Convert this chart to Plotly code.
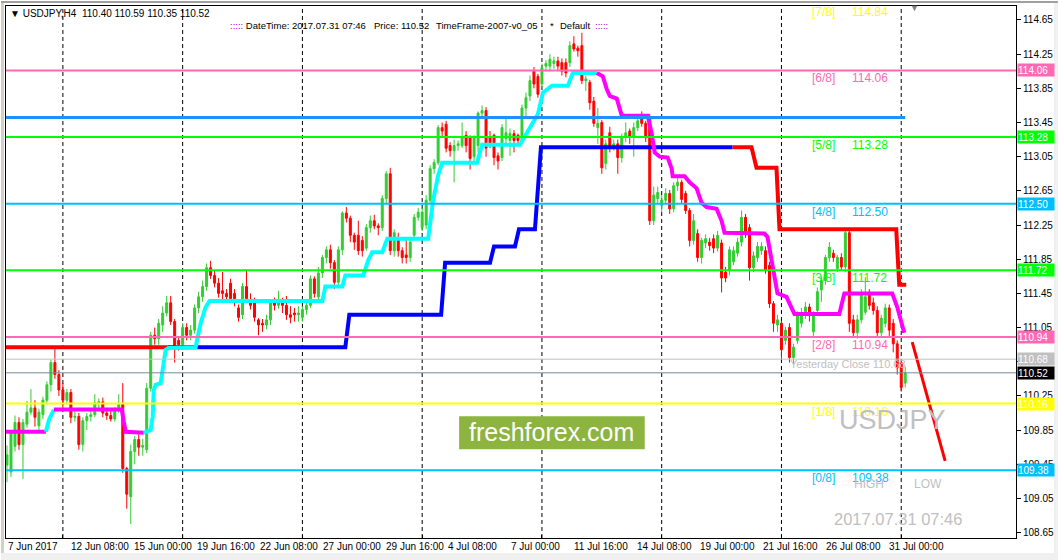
import plotly.graph_objects as go

# ---------------- DATA ----------------
symbol = "USDJPY"
timeframe = "H4"
datetime_text = "2017.07.31 07:46"

opens = [109.44,109.36,109.66,109.94,109.68,109.92,110.06,110.11,109.90,110.03,
         110.20,110.38,110.64,110.50,110.32,110.20,110.29,110.00,110.01,109.68,
         109.96,110.01,110.03,110.17,110.18,110.05,110.02,109.98,110.08,110.15,
         109.40,109.07,109.60,109.74,109.65,109.62,110.34,110.96,110.92,111.08,
         111.22,111.34,111.12,110.90,110.85,111.05,110.96,111.02,111.28,111.41,
         111.53,111.75,111.66,111.57,111.48,111.45,111.57,111.45,111.28,111.20,
         111.53,111.37,111.37,111.14,111.10,111.08,111.14,111.34,111.31,111.37,
         111.31,111.20,111.22,111.20,111.17,111.26,111.31,111.62,111.41,111.69,
         111.87,111.96,111.81,111.58,111.96,112.39,112.33,112.13,112.13,112.07,
         111.98,112.22,112.30,112.24,112.22,112.56,112.85,111.95,112.10,111.95,
         111.90,111.87,112.13,112.34,112.22,112.25,112.54,112.91,112.98,113.39,
         113.43,113.18,113.12,113.18,113.18,113.30,113.27,113.05,113.18,113.56,
         113.59,113.27,113.30,113.06,113.04,113.26,113.24,113.32,113.30,113.24,
         113.62,113.76,114.05,113.99,113.90,114.11,114.11,114.14,114.17,114.15,
         114.15,114.15,114.37,114.32,114.35,113.94,113.92,113.70,113.39,113.45,
         112.97,113.33,113.18,113.20,113.04,113.28,113.35,113.29,113.39,113.53,
         113.44,113.50,112.30,112.56,112.48,112.54,112.62,112.44,112.71,112.75,
         112.62,112.42,112.07,112.15,111.87,112.04,112.05,112.09,111.98,112.04,
         111.70,111.72,111.82,111.92,112.05,112.34,112.22,111.75,111.87,111.95,
         111.95,111.78,111.33,111.08,111.10,110.90,111.05,110.70,110.90,111.10,
         111.22,111.29,111.00,111.25,111.49,111.60,111.87,111.92,111.74,111.87,
         111.76,112.16,111.14,110.99,111.14,111.23,111.43,111.34,111.25,110.99,
         111.10,111.28,111.10,110.86,110.64,110.40]
highs = [109.67,109.85,110.02,110.00,109.98,110.19,110.33,110.20,110.10,110.24,
         110.42,110.67,110.81,110.55,110.40,110.33,110.33,110.10,110.05,110.00,
         110.05,110.08,110.27,110.22,110.23,110.10,110.08,110.12,110.27,110.40,
         109.42,109.68,109.78,109.80,109.75,110.40,111.00,111.05,111.15,111.30,
         111.42,111.42,111.15,110.95,111.10,111.10,111.08,111.32,111.47,111.60,
         111.80,111.83,111.72,111.63,111.70,111.50,111.62,111.50,111.32,111.57,
         111.73,111.45,111.40,111.16,111.15,111.20,111.38,111.40,111.48,111.40,
         111.42,111.30,111.28,111.30,111.30,111.36,111.66,111.65,111.76,111.90,
         112.00,112.02,111.84,112.00,112.41,112.46,112.36,112.16,112.30,112.12,
         112.26,112.36,112.37,112.27,112.60,112.88,112.92,112.20,112.16,111.99,
         112.10,112.09,112.38,112.45,112.45,112.60,112.95,113.02,113.42,113.45,
         113.47,113.22,113.25,113.24,113.45,113.35,113.30,113.30,113.58,113.65,
         113.63,113.35,113.32,113.10,113.43,113.50,113.38,113.36,113.32,113.66,
         113.80,114.00,114.10,114.02,114.14,114.18,114.25,114.22,114.22,114.20,
         114.20,114.40,114.46,114.35,114.50,114.00,113.95,113.75,113.62,113.48,
         113.25,113.40,113.25,113.25,113.32,113.45,113.38,113.45,113.52,113.58,
         113.47,113.55,112.70,112.70,112.60,112.68,112.66,112.75,112.80,112.78,
         112.65,112.45,112.38,112.20,112.10,112.14,112.10,112.14,112.18,112.08,
         111.76,112.00,112.00,112.10,112.42,112.38,112.26,111.94,112.05,112.05,
         112.00,111.82,111.36,111.20,111.13,111.06,111.10,110.86,111.24,111.28,
         111.35,111.33,111.24,111.52,111.65,111.90,112.05,111.96,111.90,111.92,
         112.20,112.22,111.20,111.20,111.50,111.64,111.50,111.40,111.30,111.20,
         111.33,111.32,111.15,110.90,110.66,110.59]
lows = [109.24,109.30,109.60,109.62,109.28,109.88,110.03,109.89,109.85,109.98,
        110.15,110.30,110.45,110.25,110.08,110.15,109.93,109.95,109.62,109.60,
        109.85,109.95,110.00,110.10,110.00,109.97,109.95,109.95,110.05,109.35,
        108.93,108.75,109.45,109.55,109.55,109.58,110.30,110.85,110.85,111.00,
        111.18,111.08,110.64,110.78,110.80,110.90,110.90,110.98,111.22,111.35,
        111.48,111.62,111.52,111.40,111.35,111.36,111.35,111.30,111.12,111.15,
        111.35,111.26,111.12,110.96,111.00,111.03,111.08,111.25,111.27,111.22,
        111.14,111.10,111.12,111.12,111.12,111.20,111.28,111.40,111.37,111.63,
        111.80,111.74,111.50,111.52,111.90,112.28,112.05,111.96,111.90,111.88,
        111.95,112.16,112.20,112.13,112.18,112.50,111.90,111.88,111.88,111.80,
        111.80,111.82,112.10,112.30,112.18,112.20,112.50,112.85,112.95,113.28,
        113.10,113.05,112.75,113.12,113.15,113.10,112.90,113.00,113.10,113.50,
        113.05,113.15,112.95,112.90,113.00,113.20,113.06,113.10,113.18,113.20,
        113.50,113.70,113.85,113.74,113.85,114.05,114.05,114.08,114.05,114.00,
        113.98,114.10,114.28,114.22,113.90,113.82,113.60,113.40,113.20,112.85,
        112.90,113.10,113.12,112.85,112.98,113.22,113.20,113.05,113.35,113.40,
        113.22,112.25,112.25,112.50,112.40,112.50,112.38,112.40,112.65,112.50,
        112.38,112.00,112.02,111.82,111.80,111.98,111.95,111.92,111.94,111.46,
        111.58,111.66,111.78,111.88,112.00,112.10,111.60,111.70,111.82,111.90,
        111.68,111.28,111.00,111.00,110.68,110.85,110.64,110.62,110.86,111.05,
        111.15,111.12,110.95,111.20,111.35,111.55,111.82,111.82,111.70,111.72,
        111.70,111.00,110.95,110.92,111.10,111.20,111.26,111.20,110.94,110.95,
        111.05,110.95,110.76,110.50,110.30,110.35]
closes = [109.56,109.83,109.94,109.68,109.94,110.06,110.11,110.00,110.06,110.20,
          110.38,110.64,110.50,110.32,110.20,110.29,110.00,110.01,109.68,109.96,
          110.01,110.03,110.17,110.18,110.05,110.02,109.98,110.08,110.15,109.40,
          109.10,109.60,109.74,109.65,109.67,110.34,110.96,110.92,111.10,111.22,
          111.34,111.12,110.82,110.85,111.05,110.96,111.02,111.28,111.41,111.53,
          111.75,111.66,111.57,111.45,111.45,111.41,111.39,111.39,111.17,111.53,
          111.39,111.31,111.17,111.08,111.08,111.14,111.34,111.31,111.37,111.31,
          111.20,111.17,111.20,111.22,111.26,111.31,111.62,111.45,111.69,111.87,
          111.96,111.81,111.58,111.96,112.39,112.33,112.13,112.05,111.95,111.95,
          112.22,112.30,112.24,112.22,112.56,112.85,111.95,112.16,111.95,111.87,
          111.87,112.05,112.34,112.40,112.40,112.54,112.91,112.98,113.39,113.35,
          113.15,113.12,113.18,113.20,113.27,113.18,113.03,113.27,113.56,113.59,
          113.15,113.21,113.04,113.00,113.39,113.33,113.32,113.24,113.24,113.62,
          113.74,113.94,113.90,113.78,114.09,114.14,114.19,114.17,114.11,114.05,
          114.03,114.35,114.31,114.29,113.94,113.96,113.68,113.44,113.44,112.92,
          113.20,113.18,113.20,113.04,113.28,113.33,113.29,113.39,113.47,113.44,
          113.27,112.30,112.60,112.63,112.54,112.62,112.44,112.71,112.75,112.55,
          112.42,112.07,112.30,111.87,112.07,112.09,112.01,111.98,112.13,111.63,
          111.63,111.96,111.95,112.05,112.34,112.15,111.75,111.89,112.00,112.00,
          111.72,111.33,111.10,111.14,110.79,111.02,110.70,110.82,111.20,111.22,
          111.29,111.20,111.20,111.47,111.60,111.87,111.99,111.87,111.87,111.76,
          112.16,111.10,110.99,111.14,111.45,111.41,111.31,111.25,110.99,111.16,
          111.28,111.02,110.86,110.58,110.35,110.52]

# Murrey Math levels
murrey_levels = [109.38, 110.16, 110.94, 111.72, 112.50, 113.28, 114.06, 114.84]
murrey_names = ["[0/8]", "[1/8]", "[2/8]", "[3/8]", "[4/8]", "[5/8]", "[6/8]", "[7/8]"]
murrey_colors = ["#00BFFF", "#FFFF00", "#FF69B4", "#00FF00", "#00BFFF", "#00FF00", "#FF69B4", "#FFFF00"]

yesterday_close = 110.68
resistance_level = 113.51

# trailing stop indicator (blue = up, red = down)  (bar index, price)
trail_red1_x = [-0.25, 40.25]
trail_red1_y = [110.82, 110.82]
trail_blue_x = [40.25, 84.75, 85.75, 108.75, 109.75, 121, 122, 127.25, 128.25, 132.25, 133.75, 181.75]
trail_blue_y = [110.82, 110.82, 111.20, 111.20, 111.81, 111.81, 112.00, 112.00, 112.20, 112.20, 113.16, 113.16]
trail_red2_x = [181.75, 186.5, 187.75, 192.75, 193.5, 222.75, 223.5, 225.25]
trail_red2_y = [113.16, 113.16, 112.92, 112.92, 112.20, 112.20, 111.55, 111.55]

# second trailing line (cyan = up, magenta = down)
kij_m1_x = [-0.25, 9.75]
kij_m1_y = [109.83, 109.83]
kij_c1_x = [9.75, 10.5, 11.75]
kij_c1_y = [109.83, 109.97, 110.09]
kij_m2_x = [11.75, 28.75, 29.25, 29.75, 34.25]
kij_m2_y = [110.09, 110.09, 109.95, 109.83, 109.82]
kij_c2_x = [34.25, 36, 36.5, 36.75, 37.25, 38.5, 39.75, 40.5, 47.25, 48.5, 49.75, 50.75, 79, 79.75, 84, 84.75,
            89.25, 90.5, 91.5, 94, 95.25, 105.5, 106.75, 108, 109, 117.75, 119, 128.5, 130.5, 133, 134.25,
            136.5, 140.5, 141.75, 147.75]
kij_c2_y = [109.82, 109.85, 110.01, 110.32, 110.38, 110.40, 110.79, 110.81, 110.82, 111.10, 111.29, 111.36,
            111.36, 111.53, 111.53, 111.66, 111.66, 111.84, 111.93, 111.93, 112.09, 112.09, 112.54, 112.83,
            112.98, 112.98, 113.19, 113.19, 113.35, 113.55, 113.80, 113.88, 113.88, 114.03, 114.03]
kij_m3_x = [147.75, 149.25, 150.25, 151, 152.75, 153.5, 154, 160.5, 161.5, 162.25, 163.5, 165.5, 166.5, 166.75,
            169.75, 171, 172.75, 174, 175.25, 177.75, 179, 179.75, 189.75, 190.5, 191.5, 192.25, 193, 195.25,
            196.5, 197.25, 208.5, 209.75, 221.75, 223, 224.75]
kij_m3_y = [114.03, 113.99, 113.84, 113.76, 113.73, 113.62, 113.53, 113.53, 113.32, 113.10, 113.05, 113.04,
            112.91, 112.82, 112.82, 112.75, 112.68, 112.51, 112.46, 112.44, 112.30, 112.16, 112.15, 112.11,
            111.84, 111.60, 111.45, 111.41, 111.29, 111.21, 111.21, 111.45, 111.45, 111.29, 110.99]

# hand-drawn projection line
proj_x = [226.75, 235.0]
proj_y = [110.88, 109.49]

week_start_bars = [14, 44, 74, 104, 134, 164, 194, 224]
time_labels = ["7 Jun 2017", "12 Jun 08:00", "15 Jun 00:00", "19 Jun 16:00", "22 Jun 08:00",
               "27 Jun 00:00", "29 Jun 16:00", "4 Jul 08:00", "7 Jul 00:00", "11 Jul 16:00",
               "14 Jul 08:00", "19 Jul 00:00", "21 Jul 16:00", "26 Jul 08:00", "31 Jul 00:00"]
label_step_bars = 16

# right-axis price tags
tag_values = [114.06, 113.28, 112.50, 111.72, 110.94, 110.68, 110.52, 110.16, 109.38]
tag_colors = ["#FF69B4", "#00FF00", "#00BFFF", "#00FF00", "#FF69B4", "#C0C0C0", "#000000", "#FFFF00", "#00BFFF"]

# ---------------- LAYOUT GEOMETRY ----------------
W, H = 1059, 560
PL, PR, PT, PB = 5, 1017, 5, 538          # plot area in pixels
PW, PH = PR - PL, PB - PT
FONT = "Liberation Sans, Arial, sans-serif"
Y_RANGE = [108.587, 114.8136]


def fx(p):
    return (p - PL) / PW


def fy(p):
    return (PB - p) / PH


def price_to_paper(v):
    return (v - Y_RANGE[0]) / (Y_RANGE[1] - Y_RANGE[0])


bars = list(range(len(closes)))

fig = go.Figure()

fig.add_trace(go.Candlestick(
    x=bars, open=opens, high=highs, low=lows, close=closes,
    increasing=dict(line=dict(color="#32CD32", width=1), fillcolor="#32CD32"),
    decreasing=dict(line=dict(color="#FF0000", width=1), fillcolor="#FF0000"),
    whiskerwidth=0, showlegend=False, hoverinfo="skip"))


def add_line(xs, ys, color, width):
    fig.add_trace(go.Scatter(x=xs, y=ys, mode="lines", line=dict(color=color, width=width),
                             showlegend=False, hoverinfo="skip"))


add_line(trail_red1_x, trail_red1_y, "#FF0000", 4)
add_line(trail_blue_x, trail_blue_y, "#0000FF", 4)
add_line(trail_red2_x, trail_red2_y, "#FF0000", 4)
add_line(kij_m1_x, kij_m1_y, "#FF00FF", 4)
add_line(kij_c1_x, kij_c1_y, "#00FFFF", 4)
add_line(kij_m2_x, kij_m2_y, "#FF00FF", 4)
add_line(kij_c2_x, kij_c2_y, "#00FFFF", 4)
add_line(kij_m3_x, kij_m3_y, "#FF00FF", 4)
add_line([bars[0] - 0.25, bars[-1]], [resistance_level, resistance_level], "#1E90FF", 3)
add_line(proj_x, proj_y, "#FF0000", 3)

shapes = []
# weekly dashed separators
for b in week_start_bars:
    shapes.append(dict(type="line", xref="x", yref="paper", x0=b, x1=b, y0=0, y1=1,
                       line=dict(color="black", width=1, dash="4px,3px"), layer="below"))
# murrey levels
for lvl, col in zip(murrey_levels, murrey_colors):
    shapes.append(dict(type="line", xref="paper", yref="y", x0=0, x1=1, y0=lvl, y1=lvl,
                       line=dict(color=col, width=2), layer="above"))
# yesterday close and current price
shapes.append(dict(type="line", xref="paper", yref="y", x0=0, x1=1, y0=yesterday_close, y1=yesterday_close,
                   line=dict(color="#C0C0C0", width=1), layer="above"))
shapes.append(dict(type="line", xref="paper", yref="y", x0=0, x1=1, y0=closes[-1], y1=closes[-1],
                   line=dict(color="#778899", width=1), layer="above"))
# freshforex box
shapes.append(dict(type="rect", xref="paper", yref="paper", x0=fx(459), x1=fx(645), y0=fy(449), y1=fy(416),
                   fillcolor="#8DB43F", line=dict(width=0), layer="above"))
# window frame bits
shapes.append(dict(type="rect", xref="paper", yref="paper", x0=fx(0), x1=fx(3), y0=fy(560), y1=fy(0),
                   fillcolor="#D4D0C8", line=dict(width=0), layer="above"))
shapes.append(dict(type="rect", xref="paper", yref="paper", x0=fx(0), x1=fx(1059), y0=fy(560), y1=fy(553),
                   fillcolor="#F0F0F0", line=dict(width=0), layer="above"))
shapes.append(dict(type="rect", xref="paper", yref="paper", x0=fx(1055), x1=fx(1059), y0=fy(560), y1=fy(0),
                   fillcolor="#F0F0F0", line=dict(width=0), layer="above"))
shapes.append(dict(type="rect", xref="paper", yref="paper", x0=fx(0), x1=fx(1059), y0=fy(2), y1=fy(0),
                   fillcolor="#A0A0A0", line=dict(width=0), layer="above"))

ann = []
# murrey labels (paper-referenced so that the [7/8] label above the visible range still shows)
for lvl, name, col in zip(murrey_levels, murrey_names, murrey_colors):
    ann.append(dict(xref="paper", yref="paper", x=fx(811), y=price_to_paper(lvl), text=name, showarrow=False,
                    xanchor="left", yanchor="middle", yshift=-8, font=dict(family=FONT, size=12, color=col)))
    ann.append(dict(xref="paper", yref="paper", x=fx(851), y=price_to_paper(lvl), text=f"{lvl:.2f}",
                    showarrow=False, xanchor="left", yanchor="middle", yshift=-8,
                    font=dict(family=FONT, size=12, color=col)))
# right tags
for v, c in zip(tag_values, tag_colors):
    ann.append(dict(xref="paper", yref="y", x=fx(1018), y=v, text=f"{v:.2f}", showarrow=False,
                    xanchor="left", yanchor="middle", bgcolor=c, borderpad=0, width=36, height=12,
                    align="left", font=dict(family=FONT, size=10, color="white")))
# x labels
for k, t in enumerate(time_labels):
    ann.append(dict(xref="x", yref="paper", x=k * label_step_bars, y=0, text=t, showarrow=False,
                    xanchor="left", yanchor="top", xshift=-1 - k * 0.95, yshift=-1,
                    font=dict(family=FONT, size=10, color="black")))
# texts
ann.append(dict(xref="paper", yref="y", x=fx(789), y=yesterday_close, text=f"Yesterday Close {yesterday_close:.2f}",
                showarrow=False, xanchor="left", yanchor="middle", yshift=-5,
                font=dict(family=FONT, size=11, color="#C0C0C0")))
ann.append(dict(xref="paper", yref="paper", x=fx(893), y=fy(420), text=symbol, showarrow=False,
                xanchor="center", yanchor="middle", font=dict(family=FONT, size=27, color="#C0C0C0")))
ann.append(dict(xref="paper", yref="paper", x=fx(870), y=fy(484), text="HIGH", showarrow=False,
                xanchor="center", yanchor="middle", font=dict(family=FONT, size=12, color="#C0C0C0")))
ann.append(dict(xref="paper", yref="paper", x=fx(929), y=fy(484), text="LOW", showarrow=False,
                xanchor="center", yanchor="middle", font=dict(family=FONT, size=12, color="#C0C0C0")))
ann.append(dict(xref="paper", yref="paper", x=fx(899), y=fy(519), text=datetime_text, showarrow=False,
                xanchor="center", yanchor="middle", font=dict(family=FONT, size=16.5, color="#C0C0C0")))
ann.append(dict(xref="paper", yref="paper", x=fx(552), y=fy(432), text="freshforex.com", showarrow=False,
                xanchor="center", yanchor="middle", font=dict(family=FONT, size=25, color="white")))
ann.append(dict(xref="paper", yref="paper", x=fx(915), y=fy(7), text="▼", showarrow=False,
                xanchor="center", yanchor="middle", font=dict(family=FONT, size=9, color="#808080")))
# header
nb = "\u00a0"
hdr = (f"▼{nb}{symbol},{timeframe}{nb}{nb}{opens[-1]:.2f} {highs[-1]:.2f} {lows[-1]:.2f} {closes[-1]:.2f}")
ann.append(dict(xref="paper", yref="paper", x=fx(7), y=fy(13), text=hdr, showarrow=False,
                xanchor="left", yanchor="middle", font=dict(family=FONT, size=10, color="black")))
hdr2 = [(227, "<span style='color:#9900CC'>:::::</span> DateTime: " + datetime_text),
        (372, f"Price: {closes[-1]:.2f}"),
        (434, "TimeFrame-2007-v0_05"),
        (548, "*"),
        (558, "Default"),
        (593, "<span style='color:#9900CC'>:::::</span>")]
for xp, t in hdr2:
    ann.append(dict(xref="paper", yref="paper", x=fx(xp), y=fy(25), text=t, showarrow=False,
                    xanchor="left", yanchor="middle", font=dict(family=FONT, size=9.5, color="black")))

fig.update_layout(
    width=W, height=H,
    margin=dict(l=PL, r=W - PR, t=PT, b=H - PB, pad=0),
    paper_bgcolor="white", plot_bgcolor="white",
    showlegend=False,
    shapes=shapes, annotations=ann,
    font=dict(family=FONT, size=10, color="black"),
    xaxis=dict(range=[-0.25, 252.75], showgrid=False, zeroline=False, rangeslider=dict(visible=False),
               showline=True, linecolor="black", linewidth=1, mirror=True,
               tickvals=week_start_bars, ticks="inside", ticklen=3, tickcolor="black",
               showticklabels=False),
    yaxis=dict(range=Y_RANGE, side="right", showgrid=False, zeroline=False,
               showline=True, linecolor="black", linewidth=1, mirror=True,
               tick0=108.65, dtick=0.4, tickformat=".2f", ticks="outside", ticklen=4, tickcolor="black",
               tickfont=dict(family=FONT, size=10, color="black")),
)

fig.write_html("out.html", config={"displayModeBar": False},
               post_script="document.body.style.margin='0px';document.body.style.overflow='hidden';")
